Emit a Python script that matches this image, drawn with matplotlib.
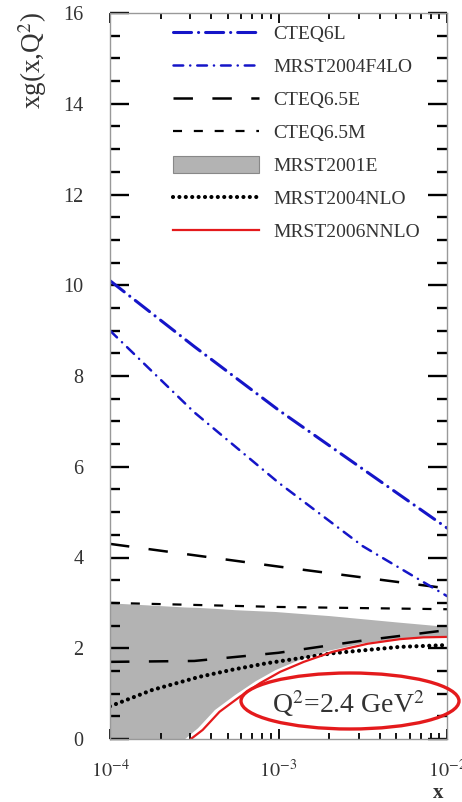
import numpy as np
import matplotlib
matplotlib.use('Agg')
import matplotlib.pyplot as plt
from matplotlib.patches import Ellipse, Patch
from matplotlib.lines import Line2D
from matplotlib.ticker import MultipleLocator, LogLocator, NullFormatter

plt.rcParams['font.family'] = 'serif'
plt.rcParams['font.serif'] = ['Liberation Serif', 'DejaVu Serif']
plt.rcParams['mathtext.fontset'] = 'stix'
plt.rcParams['lines.scale_dashes'] = False

# gluon distributions at Q^2 = 2.4 GeV^2, x given as log10(x)
lx_cteq6l = [-4.0, -3.5, -3.0, -2.5, -2.0]
xg_cteq6l = [10.1, 8.65, 7.25, 5.95, 4.65]

lx_mrst04lo = [-4.0, -3.5, -3.0, -2.5, -2.0]
xg_mrst04lo = [9.0, 7.2, 5.65, 4.25, 3.15]

lx_cteq65e_up = [-4.0, -3.0, -2.0]
xg_cteq65e_up = [4.3, 3.8, 3.32]
lx_cteq65e_lo = [-4.0, -3.5, -3.0, -2.5, -2.0]
xg_cteq65e_lo = [1.70, 1.72, 1.90, 2.17, 2.40]

lx_cteq65m = [-4.0, -3.0, -2.0]
xg_cteq65m = [3.0, 2.91, 2.86]

lx_mrst01e = [-4.0, -3.75, -3.56, -3.48, -3.38, -3.26, -3.14, -3.02, -2.88, -2.7, -2.5, -2.3, -2.15, -2.0]
xg_mrst01e_lo = [0.0, 0.0, 0.0, 0.25, 0.65, 0.98, 1.28, 1.53, 1.75, 1.96, 2.12, 2.22, 2.25, 2.27]
xg_mrst01e_hi = [3.0, 2.95, 2.91, 2.9, 2.88, 2.85, 2.83, 2.81, 2.77, 2.72, 2.65, 2.58, 2.53, 2.48]

lx_mrst04nlo = [-4.0, -3.75, -3.47, -3.27, -3.07, -2.68, -2.28, -2.0]
xg_mrst04nlo = [0.72, 1.08, 1.37, 1.53, 1.67, 1.89, 2.03, 2.07]

lx_mrst06nnlo = [-3.52, -3.45, -3.35, -3.23, -3.11, -2.99, -2.85, -2.68, -2.47, -2.28, -2.14, -2.0]
xg_mrst06nnlo = [0.0, 0.2, 0.6, 0.93, 1.23, 1.48, 1.7, 1.92, 2.1, 2.2, 2.24, 2.25]

x_ticks = [1e-4, 1e-3, 1e-2]
x_ticklabels = [r'$10^{-4}$', r'$10^{-3}$', r'$10^{-2}$']
legend_labels = ['CTEQ6L', 'MRST2004F4LO', 'CTEQ6.5E', 'CTEQ6.5M',
                 'MRST2001E', 'MRST2004NLO', 'MRST2006NNLO']

blue = '#1515c8'
red = '#e41a1c'
grey = '#b3b3b3'

st_cteq6l = dict(color=blue, lw=2.2, ls=(0, (13, 5, 0.1, 5)), dash_capstyle='round')
st_mrst04lo = dict(color=blue, lw=1.8, ls=(0, (7, 5, 0.1, 5)), dash_capstyle='round')
st_cteq65e = dict(color='black', lw=1.8, ls=(0, (14, 14)))
st_cteq65m = dict(color='black', lw=1.6, ls=(0, (6.5, 8.5)))
st_mrst04nlo = dict(color='black', lw=3.0, ls=(0, (0.01, 4.6)), dash_capstyle='round')
st_mrst06nnlo = dict(color=red, lw=1.6, ls='-')


def X(lx):
    return 10.0 ** np.array(lx)


fig = plt.figure(figsize=(4.62, 8.02), dpi=100)
ax = fig.add_axes([110 / 462, 63 / 802, 337 / 462, 726 / 802])

ax.fill_between(X(lx_mrst01e), xg_mrst01e_lo, xg_mrst01e_hi, color=grey, lw=0)
ax.plot(X(lx_cteq65m), xg_cteq65m, **st_cteq65m)
ax.plot(X(lx_cteq65e_up), xg_cteq65e_up, **st_cteq65e)
ax.plot(X(lx_cteq65e_lo), xg_cteq65e_lo, **st_cteq65e)
ax.plot(X(lx_mrst04nlo), xg_mrst04nlo, **st_mrst04nlo)
ax.plot(X(lx_mrst06nnlo), xg_mrst06nnlo, **st_mrst06nnlo)
ax.plot(X(lx_mrst04lo), xg_mrst04lo, **st_mrst04lo)
ax.plot(X(lx_cteq6l), xg_cteq6l, **st_cteq6l)

ax.set_xscale('log')
ax.set_xlim(1e-4, 1e-2)
ax.set_ylim(0, 16)

ax.set_xticks(x_ticks, labels=x_ticklabels)
ax.xaxis.set_minor_locator(LogLocator(base=10, subs=np.arange(2, 10)))
ax.xaxis.set_minor_formatter(NullFormatter())
ax.yaxis.set_major_locator(MultipleLocator(2))
ax.yaxis.set_minor_locator(MultipleLocator(0.5))

ax.tick_params(axis='y', which='major', direction='in', length=14, width=1.7,
               left=True, right=True, pad=19, labelsize=14.5, labelcolor='#333333')
ax.tick_params(axis='y', which='minor', direction='in', length=7, width=1.7,
               left=True, right=True)
ax.tick_params(axis='x', which='major', direction='in', length=7, width=1.3,
               top=True, bottom=True, pad=15, labelsize=14.5, labelcolor='#333333')
ax.tick_params(axis='x', which='minor', direction='in', length=4, width=1.3,
               top=True, bottom=True)
for s in ax.spines.values():
    s.set_color('#999999')
    s.set_linewidth(1)

handles = [Line2D([], [], **st_cteq6l),
           Line2D([], [], **st_mrst04lo),
           Line2D([], [], **st_cteq65e),
           Line2D([], [], **st_cteq65m),
           Patch(facecolor=grey, edgecolor='#888888', lw=0.8),
           Line2D([], [], **st_mrst04nlo),
           Line2D([], [], **st_mrst06nnlo)]
leg = fig.legend(handles, legend_labels, loc='upper left',
                 bbox_to_anchor=(173 / 462, 1 - 24 / 802), frameon=False,
                 fontsize=14, handlelength=4.4, handleheight=1.0,
                 handletextpad=0.75, labelspacing=0.7, borderpad=0,
                 borderaxespad=0)
for t in leg.get_texts():
    t.set_color('#333333')

fig.text(33 / 462, 1 - 61 / 802, r'xg(x,Q$^2$)', rotation=90, fontsize=19.5,
         ha='center', va='center', color='#333333')
fig.text(438 / 462, 1 - 793 / 802, 'x', fontsize=15, fontweight='bold',
         ha='center', va='center', color='#333333')

fig.add_artist(Ellipse((350 / 462, 1 - 701 / 802), 218 / 462, 56 / 802,
                       transform=fig.transFigure, fill=False, ec=red, lw=2.4))
fig.text(348 / 462, 1 - 704 / 802, r'Q$^2$=2.4 GeV$^2$', fontsize=20,
         ha='center', va='center', color='#333333')

fig.savefig('out.png', dpi=100)
